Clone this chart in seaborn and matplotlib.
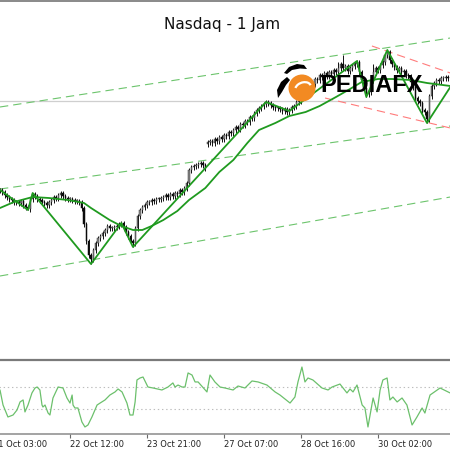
import numpy as np
import pandas as pd
import matplotlib
matplotlib.use("Agg")
import matplotlib.pyplot as plt
import seaborn as sns
from matplotlib.patches import Circle, Polygon, Arc
from matplotlib.lines import Line2D

# ---------------- data ----------------
title = "Nasdaq - 1 Jam"

closes = [
    11420, 11416, 11410, 11406, 11402, 11400, 11396, 11396, 11394, 11398,
    11390, 11386, 11382, 11402, 11412, 11408, 11402, 11400, 11396, 11394,
    11390, 11396, 11400, 11406, 11404, 11410, 11414, 11408, 11404, 11402,
    11402, 11400, 11398, 11398, 11396, 11384, 11352, 11318, 11290, 11282,
    11300, 11314, 11324, 11328, 11334, 11340, 11348, 11344, 11344, 11346,
    11348, 11352, 11354, 11346, 11336, 11328, 11318, 11314, 11344, 11368,
    11380, 11386, 11390, 11396, 11396, 11400, 11398, 11402, 11402, 11404,
    11406, 11410, 11406, 11412, 11408, 11414, 11412, 11420, 11416, 11424,
    11434, 11460, 11466, 11468, 11470, 11472, 11474, 11470, 11464, 11516,
    11518, 11514, 11522, 11518, 11526, 11522, 11530, 11528, 11536, 11534,
    11540, 11546, 11542, 11552, 11550, 11558, 11556, 11566, 11564, 11574,
    11580, 11584, 11588, 11592, 11596, 11594, 11590, 11586, 11584, 11584,
    11582, 11578, 11582, 11576, 11580, 11586, 11588, 11596, 11598, 11606,
    11610, 11618, 11616, 11630, 11632, 11642, 11640, 11650, 11646, 11654,
    11648, 11656, 11652, 11660, 11656, 11664, 11672, 11664, 11668, 11658,
    11664, 11668, 11672, 11676, 11656, 11640, 11624, 11612, 11616, 11640,
    11656, 11664, 11660, 11670, 11676, 11690, 11696, 11680, 11672, 11666,
    11660, 11664, 11656, 11658, 11650, 11648, 11636, 11626, 11604, 11598,
    11594, 11580, 11576, 11562, 11608, 11628, 11634, 11640, 11638, 11644,
    11644, 11646, 11644,
]
open_gaps = {89: 11512}
wick_highs = {14: 11414, 114: 11600, 145: 11676, 147: 11690, 153: 11680, 160: 11672, 166: 11700}
wick_lows = {12: 11380, 39: 11272, 57: 11306, 157: 11606, 183: 11554}

zigzag_bar = [0, 12, 14, 39, 52, 57, 114, 124, 153, 157, 166, 183, 193]
zigzag_px = [11420, 11380, 11414, 11272, 11354, 11306, 11596, 11578, 11678, 11606, 11700, 11554, 11626]

ma_bar = [0, 6, 14, 21, 29, 36, 39, 43, 47, 52, 57, 61, 65, 70, 76, 81, 88, 94, 100,
          106, 111, 118, 124, 131, 137, 144, 150, 155, 162, 168, 176, 183, 193]
ma_px = [11384, 11396, 11406, 11404, 11400, 11394, 11384, 11372, 11360, 11348, 11340,
         11340, 11348, 11360, 11378, 11400, 11424, 11456, 11480, 11514, 11540, 11554,
         11568, 11576, 11588, 11606, 11622, 11636, 11642, 11642, 11640, 11634, 11628]

chan_bar = [0, 193]
chan_upper = [11586, 11724]
chan_mid = [11422, 11548]
chan_lower = [11248, 11406]
red_upper_bar = [159.4, 193]
red_upper = [11708, 11654]
red_lower_bar = [139.3, 193]
red_lower = [11604, 11544]
hline_level = 11599

cci_bar = [0, 1.3, 3.4, 5.6, 7.3, 8.6, 9.9, 10.7, 12, 13.7, 15, 15.9, 17.1, 18, 18.4,
           19.3, 20.6, 21.4, 22.7, 24.9, 27, 28.7, 30, 30.9, 31.3, 32.1, 33.4, 35.1,
           36.4, 37.7, 39.4, 41.6, 42.9, 45, 47.1, 49.3, 50.6, 52.3, 54.4, 55.7, 57,
           57.9, 58.7, 60, 61.3, 63.4, 65.6, 69.4, 72, 74.1, 75, 76.3, 78, 79.3, 80.6,
           82.3, 83.6, 84.9, 88.7, 90, 92.1, 94.3, 96.4, 99.9, 102, 105, 108, 110.6,
           114.4, 117.9, 120, 124.3, 126.4, 127.7, 129.4, 130.7, 132, 134.1, 138,
           140.6, 142.3, 145.7, 148.7, 150, 151.3, 153, 155.2, 156.4, 157.7, 159.9,
           161.6, 162.9, 164.1, 165.9, 167.1, 168.4, 170.2, 172.3, 174.4, 176.6,
           178.7, 180.9, 182.1, 184.3, 188.6, 192.9]
cci_val = [73, -64, -173, -155, -109, -36, -18, -127, -64, 46, 91, 100, 73, -64, -82,
           -64, -137, -155, 0, 100, 91, 0, -46, 27, -64, -91, -91, -218,
           -264, -246, -173, -64, -46, -18, 27, 55, 82, 55, -46, -155, -155,
           -36, 164, 182, 191, 100, 91, 73, 100, 137, 100, 118, 100, 100, 228,
           209, 146, 146, 55, 209, 146, 100, 91, 73, 109, 91, 155, 146,
           118, 55, 27, -46, 9, 146, 282, 146, 182, 164, 91,
           73, 100, 127, 46, 82, 55, 118, -64, -91, -264, 0,
           -127, 73, 164, 182, -18, 9, -36, 0, -64, -246,
           -173, -91, -137, 27, 91, 46]
cci_levels = [100, -100]

tick_bars = [-3, 30, 63, 96, 129, 162]
tick_labels = ["21 Oct 03:00", "22 Oct 12:00", "23 Oct 21:00",
               "27 Oct 07:00", "28 Oct 16:00", "30 Oct 02:00"]

# ---------------- figure ----------------
sns.set_theme(style="white")
plt.rcParams["font.family"] = ["DejaVu Sans"]
plt.rcParams["lines.scale_dashes"] = False

W = H = 450
PXB = 77 / 33.0  # pixels per bar
fig = plt.figure(figsize=(4.5, 4.5), dpi=100)
fig.patch.set_facecolor("white")

xl = (-10 / PXB, 460 / PXB)
ax = fig.add_axes([-10 / W, 92 / H, 470 / W, 358 / H])
ax.set_xlim(*xl)
ax.set_ylim(11800 - 2 * 358, 11800)
ax.axis("off")

ax2 = fig.add_axes([-10 / W, 16 / H, 470 / W, 74 / H])
ax2.set_xlim(*xl)
ax2.set_ylim(-328, 346)

# horizontal level line
ax.axhline(hline_level, color="#cfcfcf", lw=0.9, zorder=1)

# channels
green_dash = "#6cc46c"
for vals in (chan_upper, chan_mid, chan_lower):
    ax.plot(chan_bar, vals, color=green_dash, lw=0.8, ls=(0, (6, 3.6)), zorder=2)
red_dash = "#ff7b7b"
ax.plot(red_upper_bar, red_upper, color=red_dash, lw=0.8, ls=(0, (6, 3.6)), zorder=2)
ax.plot(red_lower_bar, red_lower, color=red_dash, lw=0.8, ls=(0, (6, 3.6)), zorder=2)

# candles
n = len(closes)
idx = np.arange(n)
opens = [closes[0]] + closes[:-1]
for k, v in open_gaps.items():
    opens[k] = v
df = pd.DataFrame({"bar": idx, "open": opens, "close": closes})
df["top"] = df[["open", "close"]].max(axis=1)
df["bot"] = df[["open", "close"]].min(axis=1)
df["high"] = [wick_highs.get(i, t + 5) for i, t in zip(df["bar"], df["top"])]
df["low"] = [wick_lows.get(i, b - 5) for i, b in zip(df["bar"], df["bot"])]
ax.vlines(df["bar"], df["low"], df["high"], color="#101010", lw=0.7, zorder=3)
up = df["close"] >= df["open"]
ax.bar(df["bar"][up], (df["top"] - df["bot"])[up].clip(lower=2), bottom=df["bot"][up],
       width=0.7, color="#8a8a8a", edgecolor="#333333", linewidth=0.35, zorder=4)
ax.bar(df["bar"][~up], (df["top"] - df["bot"])[~up].clip(lower=2), bottom=df["bot"][~up],
       width=0.7, color="#0a0a0a", edgecolor="#0a0a0a", linewidth=0.35, zorder=4)

# moving average and zigzag
sns.lineplot(x=ma_bar, y=ma_px, ax=ax, color="#1f9a1f", lw=1.3, zorder=5)
sns.lineplot(x=zigzag_bar, y=zigzag_px, ax=ax, color="#1f9a1f", lw=1.3, zorder=5, sort=False)

# indicator panel
for lv in cci_levels:
    ax2.axhline(lv, color="#bdbdbd", lw=0.8, ls=(0, (1, 2)), zorder=1)
sns.lineplot(x=cci_bar, y=cci_val, ax=ax2, color="#6cc06c", lw=0.9, zorder=3)
for s in ("left", "right"):
    ax2.spines[s].set_visible(False)
ax2.spines["top"].set_color("#7a7a7a")
ax2.spines["top"].set_linewidth(1.6)
ax2.spines["bottom"].set_color("#8a8a8a")
ax2.spines["bottom"].set_linewidth(1.1)
ax2.set_yticks([])
ax2.set_xticks(tick_bars)
ax2.set_xticklabels(tick_labels, fontsize=6, color="#222222")
for lab in ax2.get_xticklabels():
    lab.set_ha("left")
ax2.tick_params(axis="x", bottom=True, direction="out", length=3, width=0.8,
                color="#6a6a6a", pad=1)
ax2.set_xlabel("")
ax2.set_ylabel("")

# top border
fig.add_artist(Line2D([0, 1], [1 - 1.2 / H, 1 - 1.2 / H], color="#808080", lw=1.3))

# title
fig.text(222 / W, 1 - 25 / H, title, ha="center", va="center", fontsize=11, color="#111111")

# logo overlay (pixel coordinates)
ov = fig.add_axes([0, 0, 1, 1], zorder=10)
ov.set_xlim(0, W)
ov.set_ylim(H, 0)
ov.axis("off")
ov.patch.set_alpha(0)
ov.add_patch(Circle((302, 88), 13.5, fc="#f28a22", ec="none"))
ov.add_patch(Polygon([(284, 73), (289, 67), (297, 64), (304, 65), (307, 69), (300, 68.5),
                      (292, 70), (287, 74)], closed=True, fc="black", ec="none"))
ov.add_patch(Polygon([(287, 77), (281, 82), (277, 90), (278, 98), (282, 92), (286, 85),
                      (290, 80)], closed=True, fc="black", ec="none"))
ov.add_patch(Arc((303, 88), 16, 11, angle=-20, theta1=200, theta2=360, color="white", lw=1.6))
ov.text(320, 86, "PEDIAFX", fontsize=17, fontweight="bold", family="Liberation Sans",
        ha="left", va="center", color="black")

fig.savefig("out.png", dpi=100, facecolor="white")
